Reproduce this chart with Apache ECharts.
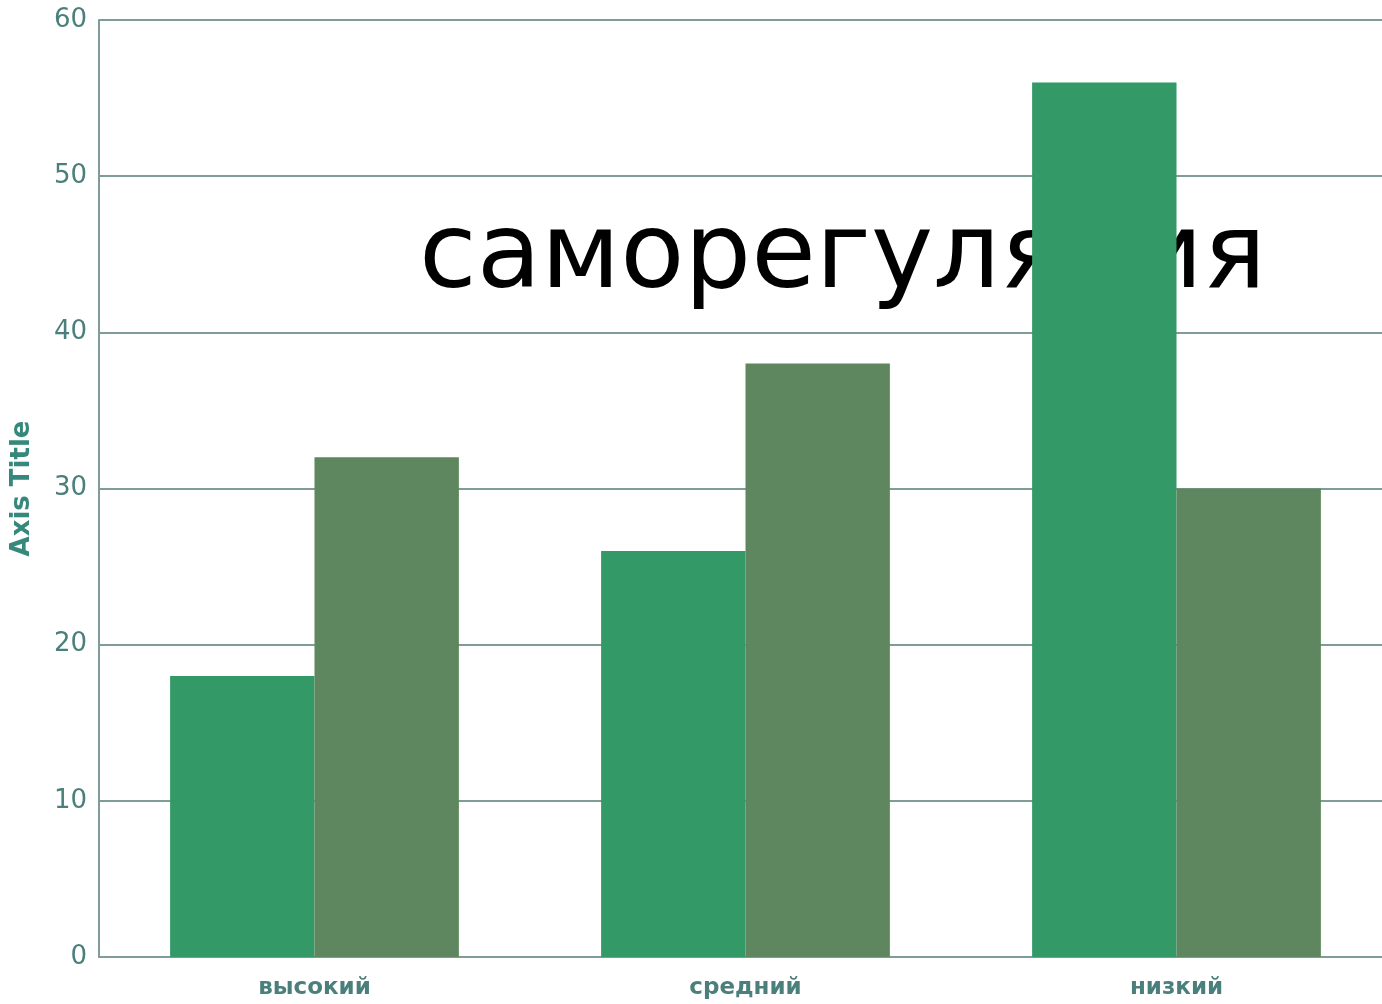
<!DOCTYPE html>
<html>
<head>
<meta charset="utf-8">
<script src="https://cdn.jsdelivr.net/npm/echarts@6/dist/echarts.min.js"></script>
<style>
  html, body { margin: 0; padding: 0; background: #fff; }
  #main { width: 1382px; height: 1004px; }
</style>
</head>
<body>
<div id="main"></div>
<script>
var categories = ['высокий', 'средний', 'низкий'];
var seriesA = [18, 26, 56];
var seriesB = [32, 38, 30];
var yTicks = [0, 10, 20, 30, 40, 50, 60];

var axisColor = '#7f9c98';
var labelColor = '#4b7f7b';

var option = {
    animation: false,
    title: {
        text: 'саморегуляция',
        left: 414,
        top: 202,
        z: 0,
        textStyle: {
            fontFamily: '"Comic Sans MS", "DejaVu Sans", sans-serif',
            fontSize: 105,
            fontWeight: 'normal',
            color: '#000'
        }
    },
    grid: {
        left: 99,
        top: 20,
        height: 937,
        width: 1293,
        outerBoundsMode: 'none'
    },
    xAxis: {
        type: 'category',
        data: categories,
        axisLine: { lineStyle: { color: axisColor, width: 2 } },
        axisTick: { show: false },
        axisLabel: {
            color: labelColor,
            fontFamily: '"DejaVu Sans", Verdana, sans-serif',
            fontWeight: 'bold',
            fontSize: 23,
            margin: 20
        }
    },
    yAxis: {
        type: 'value',
        min: yTicks[0],
        max: yTicks[yTicks.length - 1],
        interval: 10,
        name: 'Axis Title',
        nameLocation: 'middle',
        nameGap: 64,
        nameTextStyle: {
            color: '#37887c',
            fontFamily: '"DejaVu Sans", Verdana, sans-serif',
            fontWeight: 'bold',
            fontSize: 26
        },
        axisLine: { show: true, lineStyle: { color: axisColor, width: 2 } },
        axisTick: { show: false },
        splitLine: { lineStyle: { color: axisColor, width: 2 } },
        axisLabel: {
            color: labelColor,
            fontFamily: '"DejaVu Sans", Verdana, sans-serif',
            fontSize: 26,
            margin: 12
        }
    },
    series: [
        {
            type: 'bar',
            data: seriesA,
            z: 5,
            barGap: '0%',
            barCategoryGap: '33%',
            itemStyle: { color: '#339966' }
        },
        {
            type: 'bar',
            data: seriesB,
            z: 5,
            itemStyle: { color: '#5f875f' }
        }
    ]
};

echarts.init(document.getElementById('main')).setOption(option);
</script>
</body>
</html>
